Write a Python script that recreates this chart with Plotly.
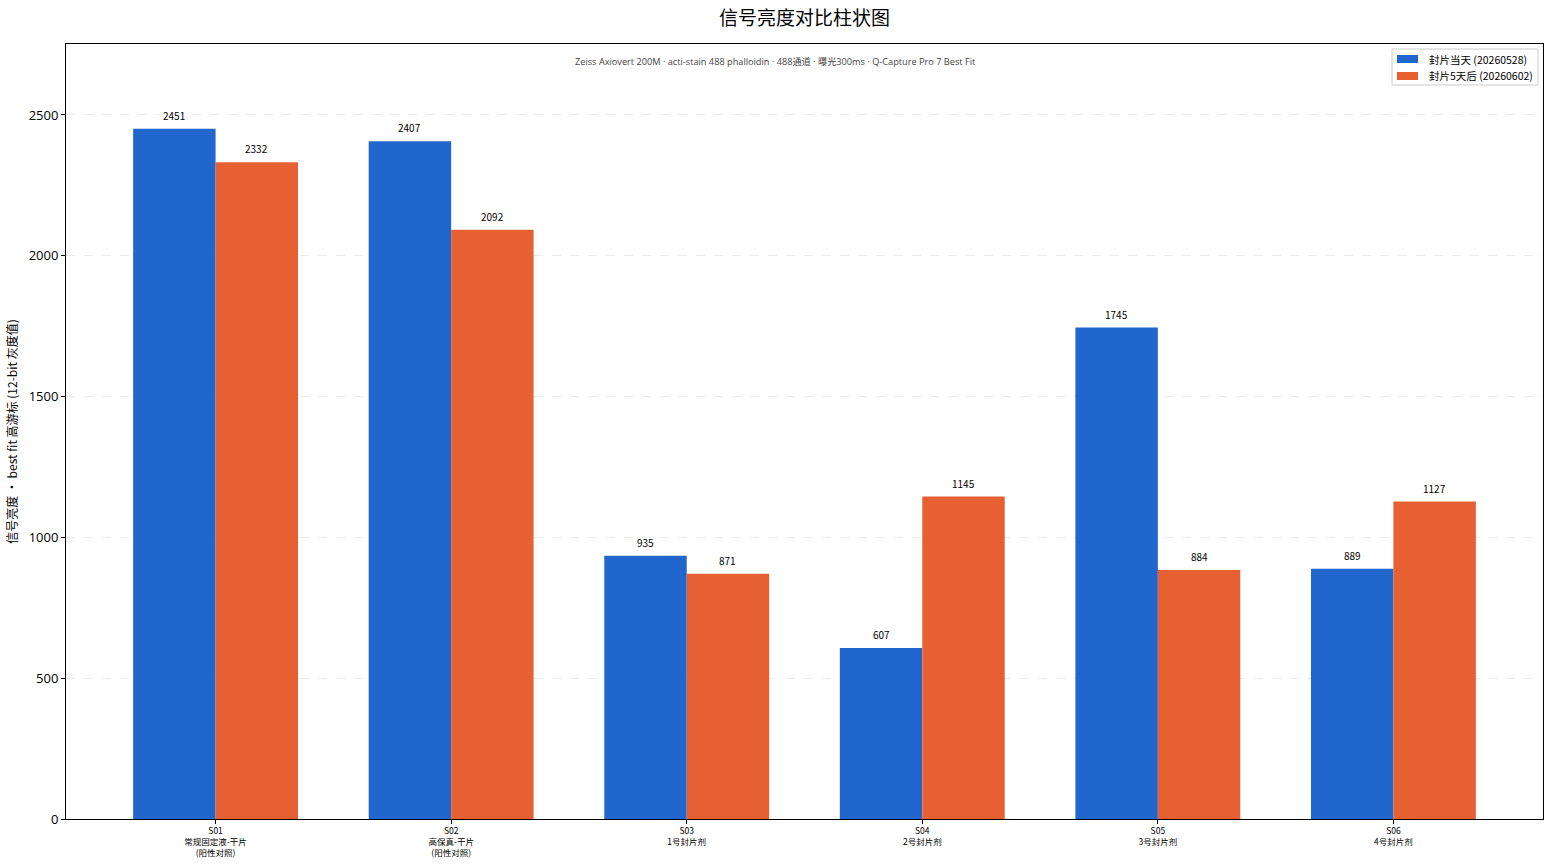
import plotly.graph_objects as go

categories = ["S01<br>常规固定液-干片<br>(阳性对照)", "S02<br>高保真-干片<br>(阳性对照)", "S03<br>1号封片剂",
              "S04<br>2号封片剂", "S05<br>3号封片剂", "S06<br>4号封片剂"]
day0 = [2451, 2407, 935, 607, 1745, 889]
day5 = [2332, 2092, 871, 1145, 884, 1127]
series_names = ["封片当天 (20260528)", "封片5天后 (20260602)"]
colors = ["#2166cc", "#e66032"]

FONT = "Noto Sans CJK SC, Noto Sans, sans-serif"
LFONT = "Open Sans, Noto Sans CJK SC, sans-serif"
xs = list(range(len(categories)))
w = 0.35

# plot area in pixels (for placing the legend box)
L, R, T, B = 66, 1543, 44, 819
def px(x):
    return (x - L) / (R - L)
def py(y):
    return (B - y) / (B - T)

fig = go.Figure()
for vals, name, col, off in [(day0, series_names[0], colors[0], -w), (day5, series_names[1], colors[1], 0)]:
    fig.add_trace(go.Bar(x=xs, y=vals, width=w, offset=off, name=name, showlegend=False,
                         marker=dict(color=col, line=dict(width=0))))
    for x, v in zip(xs, vals):
        fig.add_annotation(x=x + off + w / 2, y=v, text=str(v), showarrow=False,
                           yanchor="bottom", yshift=4, font=dict(size=10, color="#000", family=FONT))

# legend box
fig.add_shape(type="rect", xref="paper", yref="paper", x0=px(1392), x1=px(1538), y0=py(85), y1=py(49),
              line=dict(color="#cccccc", width=1), fillcolor="white", layer="above")
for i, (name, col) in enumerate(zip(series_names, colors)):
    cy = 59 + 17 * i
    fig.add_shape(type="rect", xref="paper", yref="paper", x0=px(1397), x1=px(1418),
                  y0=py(cy + 4), y1=py(cy - 4), line=dict(width=0), fillcolor=col, layer="above")
    fig.add_annotation(x=px(1427), y=py(cy), xref="paper", yref="paper", xanchor="left", yanchor="middle",
                       text=name, showarrow=False, font=dict(size=10.5, color="#000", family=FONT))

fig.add_annotation(x=(775.5 - L) / (R - L), y=0.977, xref="paper", yref="paper", yanchor="middle",
                   xanchor="center",
                   text="Zeiss Axiovert 200M · acti-stain 488 phalloidin · 488通道 · 曝光300ms · Q-Capture Pro 7 Best Fit",
                   showarrow=False, font=dict(size=9.2, color="#444", family=LFONT))

fig.update_layout(
    width=1551, height=868,
    margin=dict(l=66, r=8, t=44, b=49),
    paper_bgcolor="white", plot_bgcolor="white",
    barmode="overlay",
    showlegend=False,
    title=dict(text="信号亮度对比柱状图", x=0.5, xref="paper", xanchor="center", y=0.979, yanchor="middle",
               font=dict(size=19, color="#000", family=FONT)),
    font=dict(family=FONT, color="#000"),
    xaxis=dict(range=[-0.635, 5.635], tickmode="array", tickvals=xs, ticktext=categories,
               tickfont=dict(size=8.5, family=FONT), showgrid=False, zeroline=False,
               showline=True, linecolor="#000", linewidth=1, mirror=True,
               ticks="outside", ticklen=4, tickcolor="#000"),
    yaxis=dict(range=[0, 2752], tickmode="array", tickvals=[0, 500, 1000, 1500, 2000, 2500],
               tickfont=dict(size=13, family=LFONT), showgrid=True, gridcolor="#ebebeb",
               griddash="dash", gridwidth=1, zeroline=False,
               showline=True, linecolor="#000", linewidth=1, mirror=True,
               ticks="outside", ticklen=4, tickcolor="#000",
               title=dict(text="信号亮度 · best fit 高游标 (12-bit 灰度值)", font=dict(size=12, family=FONT), standoff=8)),
)

fig.write_html("out.html")
